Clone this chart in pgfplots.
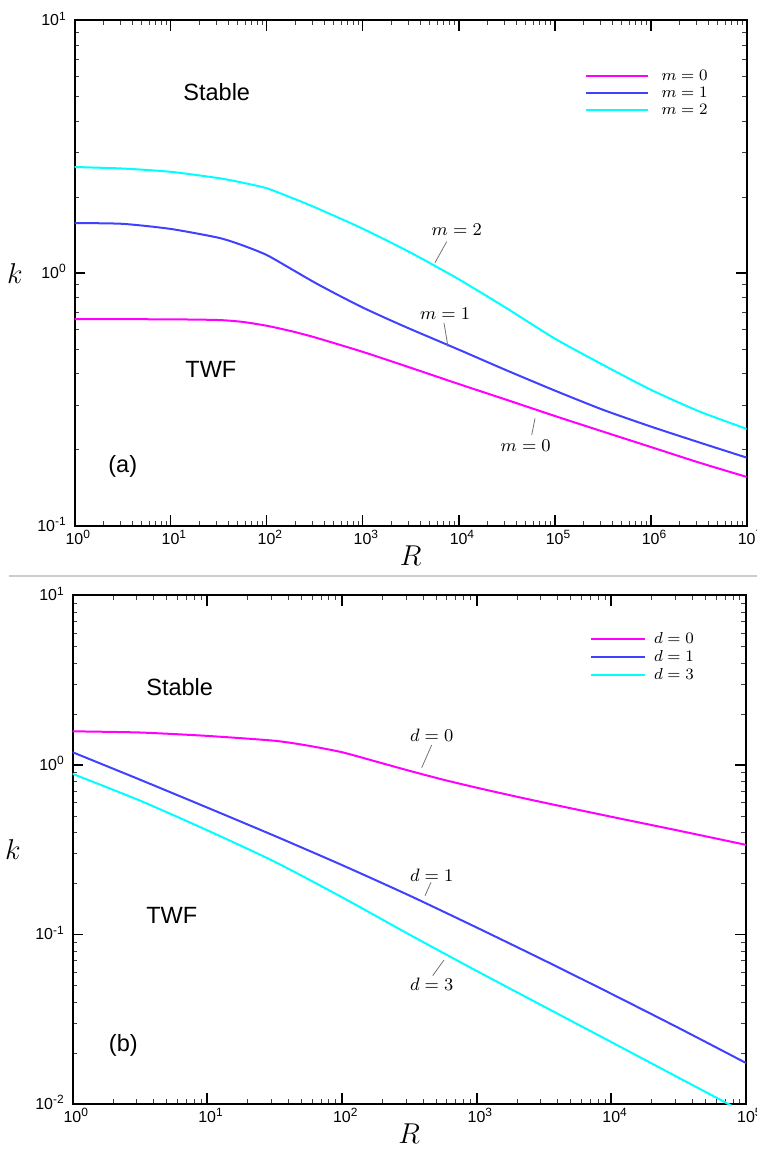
\documentclass[border=0pt]{standalone}
\usepackage{fontspec}
\setmainfont{Liberation Sans}
\usepackage{pgfplots}
\pgfplotsset{compat=1.18}

\definecolor{cmag}{RGB}{255,0,255}
\definecolor{cblu}{RGB}{64,64,255}
\definecolor{ccya}{RGB}{0,255,255}

% tick labels: "10" centred on the tick, exponent hanging to the right
\newcommand{\xl}[1]{10\rlap{\smash{\textsuperscript{#1}}}}
\newcommand{\yl}[1]{10\smash{\textsuperscript{#1}}}

\pgfplotsset{
  panel/.style={
    scale only axis, anchor=south west,
    axis line style={line width=1bp}, tick align=inside,
    major tick length=5.5bp, minor tick length=2.5bp,
    every major tick/.append style={line width=0.9bp, black},
    every minor tick/.append style={line width=0.4bp, black!75},
    tick label style={font=\fontsize{8}{9.6}\selectfont},
    xticklabel style={anchor=north, inner sep=0pt, yshift=-3.5bp},
    yticklabel style={anchor=east, inner sep=0pt, xshift=-3.7bp},
    every axis x label/.style={at={(0.5,0)}, anchor=center, yshift=-15bp},
    every axis y label/.style={at={(0,0.5)}, anchor=center, xshift=-29.75bp},
    label style={font=\fontsize{14}{16}\selectfont},
    legend cell align=left,
    legend style={draw=none, fill=none, inner sep=0pt, row sep=0pt,
      font=\fontsize{8.5}{9}\selectfont,
      nodes={inner sep=0.75bp, text height=5.5bp, text depth=1.5bp}},
    every axis plot/.append style={line width=1bp, no marks, smooth, tension=0.4},
  },
}
\tikzset{
  note/.style={font=\fontsize{9}{10}\selectfont, inner sep=0pt},
  lead/.style={black!55, line width=0.4bp},
  word/.style={font=\fontsize{11.8}{13}\selectfont, inner sep=0pt},
}

\begin{document}
\begin{tikzpicture}
\useasboundingbox (0,0) rectangle (378.5bp,575bp);

% ---------------- (a) ----------------
\begin{loglogaxis}[panel,
    at={(37.25bp,312.15bp)}, width=336.1bp, height=252.6bp,
    xmin=1, xmax=1e7, ymin=0.1, ymax=10,
    xtick={1,10,100,1000,10000,100000,1000000,10000000},
    xticklabels={\xl{0},\xl{1},\xl{2},\xl{3},\xl{4},\xl{5},\xl{6},\xl{7}},
    ytick={0.1,1,10}, yticklabels={\yl{-1},\yl{0},\yl{1}},
    xlabel={$R$}, ylabel={$k$},
    legend image code/.code={\draw[#1] (0bp,0bp) -- (30.8bp,0bp);},
    legend style={at={(0.7595,0.907)}, anchor=north west, column sep=5.5bp},
]
% m = 0
\addplot[cmag] coordinates {
 (1,0.658) (10,0.656) (31.62,0.652) (56.23,0.641) (100,0.619) (177.8,0.590)
 (316.2,0.557) (1000,0.488) (3162,0.422) (1e4,0.364) (31623,0.315)
 (1e5,0.272) (316228,0.236) (1e6,0.205) (3162278,0.178) (1e7,0.156)};
% m = 1
\addplot[cblu] coordinates {
 (1,1.578) (3.162,1.567) (10,1.496) (31.62,1.380) (56.23,1.288) (100,1.180)
 (177.8,1.042) (316.2,0.918) (562.3,0.817) (1000,0.731) (1778,0.661)
 (3162,0.600) (1e4,0.498) (31623,0.412) (1e5,0.343) (316228,0.288)
 (1e6,0.247) (3162278,0.214) (1e7,0.186)};
% m = 2
\addplot[ccya] coordinates {
 (1,2.630) (3.162,2.594) (10,2.518) (31.62,2.377) (56.23,2.28) (100,2.168)
 (177.8,1.995) (316.2,1.824) (1000,1.500) (3162,1.205) (1e4,0.946)
 (31623,0.726) (1e5,0.551) (316228,0.434) (1e6,0.3455) (3162278,0.284)
 (1e7,0.2417)};
\legend{$m=0$,$m=1$,$m=2$}

\node[note] at (rel axis cs:0.5686,0.5853) {$m=2$};
\draw[lead] (rel axis cs:0.5537,0.5622) -- (rel axis cs:0.5363,0.5206);
\node[note] at (rel axis cs:0.5512,0.4204) {$m=1$};
\draw[lead] (rel axis cs:0.5497,0.4012) -- (rel axis cs:0.5556,0.3543);
\node[note] at (rel axis cs:0.6712,0.1584) {$m=0$};
\draw[lead] (rel axis cs:0.6851,0.2126) -- (rel axis cs:0.6802,0.1795);

\node[word, anchor=west] at (rel axis cs:0.1614,0.8585) {Stable};
\node[word, anchor=west] at (rel axis cs:0.1644,0.310) {TWF};
\node[word, anchor=west] at (rel axis cs:0.0498,0.1182) {(a)};
\end{loglogaxis}

% separator between the panels
\draw[black!20, line width=0.6bp] (4.5bp,287bp) -- (378.5bp,287bp);

% ---------------- (b) ----------------
\begin{loglogaxis}[panel,
    at={(36.25bp,23bp)}, width=336.75bp, height=254.25bp,
    xmin=1, xmax=1e5, ymin=0.01, ymax=10,
    xtick={1,10,100,1000,10000,100000},
    xticklabels={\xl{0},\xl{1},\xl{2},\xl{3},\xl{4},\xl{5}},
    ytick={0.01,0.1,1,10}, yticklabels={\yl{-2},\yl{-1},\yl{0},\yl{1}},
    xlabel={$R$}, ylabel={$k$},
    legend image code/.code={\draw[#1] (0bp,0bp) -- (26.7bp,0bp);},
    legend style={at={(0.768,0.9337)}, anchor=north west, column sep=3.5bp,
      nodes={inner sep=0.75bp, text height=6bp, text depth=1.5bp}},
]
% d = 0
\addplot[cmag] coordinates {
 (1,1.58) (3.162,1.555) (10,1.485) (31.62,1.39) (56.23,1.30) (100,1.19)
 (177.8,1.05) (316.2,0.925) (562.3,0.82) (1000,0.735) (1778,0.663)
 (3162,0.600) (1e4,0.495) (31623,0.410) (1e5,0.338)};
% d = 1
\addplot[cblu] coordinates {
 (1,1.190) (3.162,0.820) (10,0.561) (31.62,0.382) (100,0.257) (316.2,0.170)
 (1000,0.110) (3162,0.0705) (1e4,0.0447) (31623,0.0281) (1e5,0.01746)};
% d = 3
\addplot[ccya] coordinates {
 (1,0.887) (3.162,0.617) (10,0.412) (31.62,0.269) (100,0.166) (316.2,0.100)
 (1000,0.0610) (3162,0.0376) (1e4,0.0232) (31623,0.01429) (1e5,0.00881)};
\legend{$d=0$,$d=1$,$d=3$}

\node[note] at (rel axis cs:0.5333,0.7257) {$d=0$};
\draw[lead] (rel axis cs:0.5333,0.706) -- (rel axis cs:0.5185,0.6614);
\node[note] at (rel axis cs:0.5333,0.4494) {$d=1$};
\draw[lead] (rel axis cs:0.5323,0.436) -- (rel axis cs:0.5234,0.4096);
\node[note] at (rel axis cs:0.5333,0.236) {$d=3$};
\draw[lead] (rel axis cs:0.5516,0.2832) -- (rel axis cs:0.5348,0.2523);

\node[word, anchor=west] at (rel axis cs:0.1091,0.820) {Stable};
\node[word, anchor=west] at (rel axis cs:0.1091,0.3717) {TWF};
\node[word, anchor=west] at (rel axis cs:0.0535,0.1160) {(b)};
\end{loglogaxis}
\end{tikzpicture}
\end{document}
